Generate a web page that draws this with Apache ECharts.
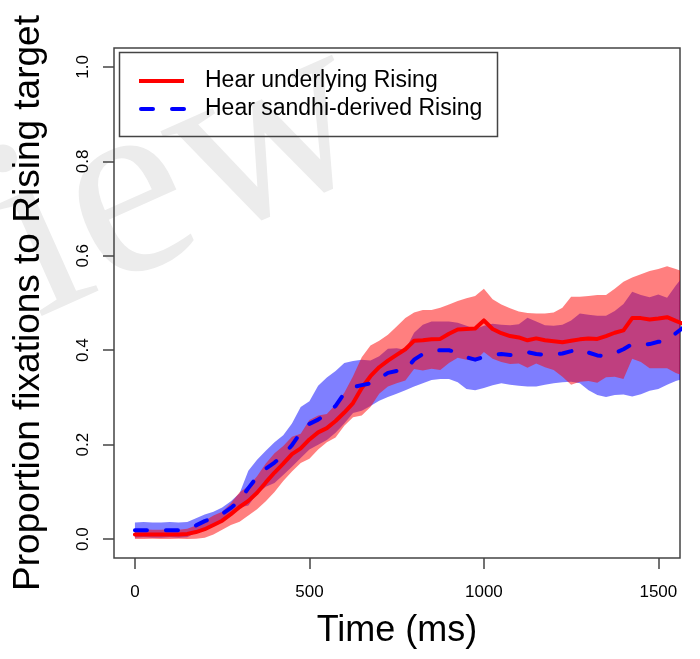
<!DOCTYPE html>
<html>
<head>
<meta charset="utf-8">
<script src="https://cdn.jsdelivr.net/npm/echarts@6/dist/echarts.min.js"></script>
<style>html,body{margin:0;padding:0;background:#fff;}#c{width:700px;height:659px;}</style>
</head>
<body>
<div id="c"></div>
<script>
// Time points (ms)
var times = [
  0,25,50,75,100,125,150,175,
  200,225,250,275,300,325,350,375,
  400,425,450,475,500,525,550,575,
  600,625,650,675,700,725,750,775,
  800,825,850,875,900,925,950,975,
  1000,1025,1050,1075,1100,1125,1150,1175,
  1200,1225,1250,1275,1300,1325,1350,1375,
  1400,1425,1450,1475,1500,1525,1550,1575
];
// Hear underlying Rising: mean, upper, lower
var redMean = [
  .010,.010,.010,.010,.010,.010,.011,.015,
  .021,.030,.039,.053,.068,.081,.098,.120,
  .141,.160,.180,.192,.211,.226,.235,.250,
  .268,.288,.320,.345,.364,.378,.390,.402,
  .420,.421,.423,.424,.435,.444,.445,.446,
  .463,.445,.436,.430,.427,.421,.425,.421,
  .419,.417,.420,.423,.425,.424,.430,.437,
  .442,.468,.468,.465,.467,.470,.462,.455
];
var redUpper = [
  .020,.021,.020,.020,.021,.020,.022,.029,
  .039,.050,.058,.076,.099,.112,.133,.160,
  .182,.197,.217,.223,.252,.262,.265,.285,
  .310,.345,.385,.410,.420,.433,.450,.468,
  .480,.485,.485,.490,.497,.504,.510,.515,
  .530,.508,.497,.489,.482,.479,.478,.478,
  .480,.490,.513,.513,.515,.517,.517,.530,
  .545,.554,.561,.568,.572,.578,.572,.565
];
var redLower = [
  .000,.000,.001,.000,.000,.001,.000,.001,
  .003,.010,.020,.030,.037,.050,.063,.080,
  .100,.123,.143,.161,.170,.190,.205,.215,
  .240,.258,.262,.280,.308,.323,.330,.336,
  .360,.357,.361,.358,.373,.384,.380,.377,
  .396,.382,.375,.371,.372,.363,.372,.364,
  .358,.344,.327,.333,.335,.331,.343,.344,
  .339,.382,.375,.362,.362,.362,.352,.345
];
// Hear sandhi-derived Rising: mean, upper, lower
var blueMean = [
  .019,.019,.019,.019,.019,.019,.020,.029,
  .038,.045,.053,.066,.082,.108,.132,.149,
  .162,.178,.199,.226,.244,.253,.266,.282,
  .309,.322,.326,.330,.340,.352,.356,.358,
  .380,.392,.399,.400,.400,.395,.385,.380,
  .386,.391,.392,.390,.390,.396,.392,.390,
  .391,.393,.398,.404,.395,.389,.387,.394,
  .402,.413,.412,.413,.418,.419,.436,.450
];
var blueUpper = [
  .035,.036,.035,.035,.036,.035,.036,.044,
  .052,.058,.067,.080,.097,.145,.168,.187,
  .205,.220,.245,.280,.292,.325,.342,.356,
  .373,.377,.380,.378,.387,.403,.404,.401,
  .437,.454,.461,.461,.461,.458,.452,.445,
  .452,.456,.454,.453,.455,.469,.461,.453,
  .452,.454,.463,.478,.475,.473,.473,.483,
  .498,.524,.517,.512,.518,.511,.537,.560
];
var blueLower = [
  .003,.004,.003,.003,.004,.003,.004,.014,
  .024,.032,.039,.052,.067,.071,.096,.111,
  .119,.136,.153,.172,.190,.200,.210,.225,
  .245,.267,.272,.282,.293,.301,.308,.315,
  .323,.330,.337,.339,.339,.332,.318,.315,
  .320,.326,.330,.327,.325,.323,.323,.327,
  .330,.332,.333,.330,.315,.305,.301,.305,
  .306,.302,.307,.314,.318,.327,.335,.340
];
var xTicks = [0, 500, 1000, 1500];
var yTicks = [0, 0.2, 0.4, 0.6, 0.8, 1.0];
var seriesNames = ['Hear underlying Rising', 'Hear sandhi-derived Rising'];

function pairs(vals) { return times.map(function (t, i) { return [t, vals[i]]; }); }

// Band polygon drawn through the cartesian coordinate system (api.coord)
function bandRenderer(upper, lower, color) {
  return function (params, api) {
    var pts = [];
    for (var i = 0; i < times.length; i++) pts.push(api.coord([times[i], upper[i]]));
    for (var j = times.length - 1; j >= 0; j--) pts.push(api.coord([times[j], lower[j]]));
    var cs = params.coordSys;
    return {
      type: 'polygon',
      shape: { points: pts },
      style: { fill: color, stroke: null },
      clipPath: { type: 'rect', shape: { x: cs.x, y: cs.y, width: cs.width, height: cs.height } }
    };
  };
}

var FONT = '"Liberation Sans", Arial, sans-serif';
var chart = echarts.init(document.getElementById('c'), null, { renderer: 'canvas' });

chart.setOption({
  animation: false,
  backgroundColor: '#ffffff',
  grid: { left: 114, top: 48, right: 20, bottom: 101, show: true, borderColor: '#444', borderWidth: 1.5, backgroundColor: 'transparent' },
  xAxis: {
    type: 'value', min: -60, max: 1562,
    name: 'Time (ms)', nameLocation: 'middle', nameGap: 55,
    nameTextStyle: { fontFamily: FONT, fontSize: 36, color: '#000' },
    axisLine: { show: false, onZero: false },
    splitLine: { show: false },
    axisTick: { show: true, length: 11, lineStyle: { color: '#444', width: 1.5 }, customValues: xTicks },
    axisLabel: { fontFamily: FONT, fontSize: 17, color: '#000', margin: 26, customValues: xTicks, formatter: function (v) { return String(v); } }
  },
  yAxis: {
    type: 'value', min: -0.04, max: 1.04,
    name: 'Proportion fixations to Rising target', nameLocation: 'middle', nameGap: 67,
    nameTextStyle: { fontFamily: FONT, fontSize: 37, color: '#000' },
    axisLine: { show: false, onZero: false },
    splitLine: { show: false },
    axisTick: { show: true, length: 11, lineStyle: { color: '#444', width: 1.5 }, customValues: yTicks },
    axisLabel: { fontFamily: FONT, fontSize: 17, color: '#000', margin: 22, rotate: 90, customValues: yTicks, formatter: function (v) { return v.toFixed(1); } }
  },
  graphic: [
    { type: 'text', z: -1, silent: true, x: 62, y: 375, rotation: 0.42,
      style: { text: 'iew', font: 'normal 262px "Liberation Serif", serif', fill: '#ececec', textAlign: 'left', textVerticalAlign: 'bottom' } },
    { type: 'rect', z: 10, silent: true, shape: { x: 119.5, y: 52.5, width: 378, height: 84 },
      style: { fill: 'transparent', stroke: '#444', lineWidth: 1.5 } },
    { type: 'line', z: 10, silent: true, shape: { x1: 139, y1: 81, x2: 184, y2: 81 },
      style: { stroke: '#ff0000', lineWidth: 4 } },
    { type: 'line', z: 10, silent: true, shape: { x1: 141, y1: 109, x2: 184, y2: 109 },
      style: { stroke: '#0000ff', lineWidth: 4, lineDash: [12, 19], lineCap: 'round' } },
    { type: 'text', z: 10, silent: true, x: 205, y: 81,
      style: { text: seriesNames[0], font: '23px "Liberation Sans", Arial, sans-serif', fill: '#000', textAlign: 'left', textVerticalAlign: 'middle' } },
    { type: 'text', z: 10, silent: true, x: 205, y: 109,
      style: { text: seriesNames[1], font: '23px "Liberation Sans", Arial, sans-serif', fill: '#000', textAlign: 'left', textVerticalAlign: 'middle' } }
  ],
  series: [
    { type: 'custom', name: 'blueBand', data: [0], renderItem: bandRenderer(blueUpper, blueLower, 'rgba(0,0,255,0.5)'), silent: true, z: 2 },
    { type: 'custom', name: 'redBand', data: [0], renderItem: bandRenderer(redUpper, redLower, 'rgba(255,0,0,0.5)'), silent: true, z: 3 },
    { type: 'line', name: seriesNames[0], data: pairs(redMean), showSymbol: false, symbol: 'none', lineStyle: { color: '#ff0000', width: 4, cap: 'round', join: 'round' }, silent: true, z: 4 },
    { type: 'line', name: seriesNames[1], data: pairs(blueMean), showSymbol: false, symbol: 'none', lineStyle: { color: '#0000ff', width: 4, type: [12, 19], cap: 'round', join: 'round' }, silent: true, z: 5 }
  ]
});
</script>
</body>
</html>
